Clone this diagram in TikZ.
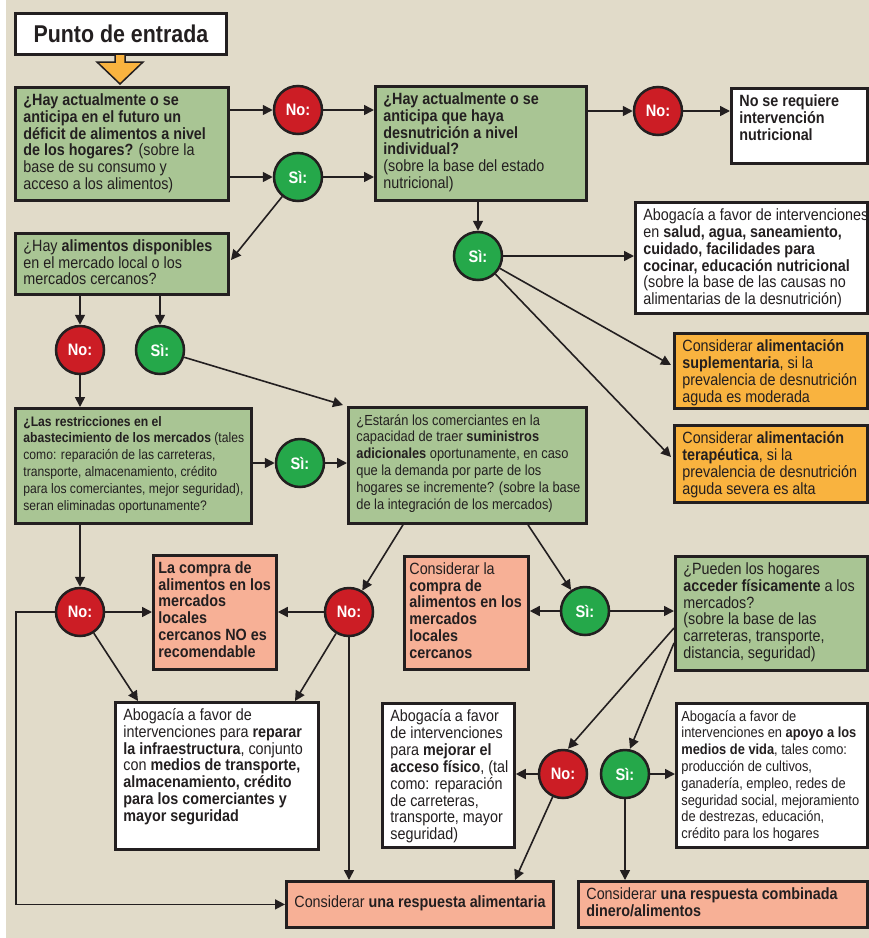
\documentclass[tikz,border=0pt]{standalone}
\usepackage{fontspec}
\setmainfont{Liberation Sans}[FakeStretch=0.88]
\usetikzlibrary{arrows.meta,calc}
\definecolor{bgc}{HTML}{E1DBC9}
\definecolor{gfill}{HTML}{A9C594}
\definecolor{redc}{HTML}{CC1D25}
\definecolor{grnc}{HTML}{25A84A}
\definecolor{orc}{HTML}{F9B33F}
\definecolor{salc}{HTML}{F7B096}
\definecolor{dk}{HTML}{231F20}
\newcommand{\mybx}[4]{\parbox[c][\dimexpr #2pt-12pt\relax][t]{\dimexpr #1pt-16pt\relax}{\fontsize{#3}{16.8}\selectfont\begin{tabular}[t]{@{}l@{}}#4\end{tabular}}}
\newcommand{\mybxc}[4]{\parbox[c][\dimexpr #2pt-12pt\relax][c]{\dimexpr #1pt-16pt\relax}{\fontsize{#3}{16.8}\selectfont\begin{tabular}[c]{@{}l@{}}#4\end{tabular}}}
\tikzset{
  bx/.style={draw=dk, line width=2.8pt, anchor=north west, inner xsep=8pt, inner ysep=6pt, text=dk},
  tightbox/.style={inner xsep=5pt},
  gbox/.style={bx, fill=gfill},
  wbox/.style={bx, fill=white},
  obox/.style={bx, fill=orc},
  sbox/.style={bx, fill=salc},
  cnode/.style={circle, draw=dk, line width=2.5pt, minimum size=48pt, inner sep=0pt, text=white, font=\fontsize{16.6}{18}\selectfont\bfseries},
  nocirc/.style={cnode, fill=redc},
  sicirc/.style={cnode, fill=grnc},
  arr/.style={draw=dk, line width=1.6pt, -{Triangle[length=10pt,width=10pt]}},
}
\begin{document}
\begin{tikzpicture}[x=1pt,y=-1pt]
\useasboundingbox (0,0) rectangle (869,938);
\fill[white] (0,0) rectangle (869,938);
\fill[bgc] (6,0) rectangle (869,938);

% title
\node[wbox, minimum width=211pt, minimum height=41pt, inner sep=0pt, font=\fontsize{24.3}{26}\selectfont\bfseries] (B0) at (14,12) {Punto de entrada};
% orange block arrow
\filldraw[fill=orc, draw=dk, line width=1.5pt] (115,54) -- (125,54) -- (125,62) -- (143,62) -- (120,84) -- (97,62) -- (115,62) -- cycle;

% boxes
\node[gbox] (B1) at (14,86) {\mybx{213}{113}{16.3}{\textbf{¿Hay actualmente o se}\\ \textbf{anticipa en el futuro un}\\ \textbf{déficit de alimentos a nivel}\\ \textbf{de los hogares?} (sobre la\\ base de su consumo y\\ acceso a los alimentos)}};
\node[gbox] (B2) at (374,85) {\mybx{211}{114}{16.3}{\textbf{¿Hay actualmente o se}\\ \textbf{anticipa que haya}\\ \textbf{desnutrición a nivel}\\ \textbf{individual?}\\ (sobre la base del estado\\ nutricional)}};
\node[wbox] (B3) at (730,87) {\mybx{136}{75}{16.3}{\textbf{No se requiere}\\ \textbf{intervención}\\ \textbf{nutricional}}};
\node[wbox] (B4) at (634,201) {\mybx{232}{111}{16.3}{Abogacía a favor de intervenciones\\ en \textbf{salud, agua, saneamiento,}\\ \textbf{cuidado, facilidades para}\\ \textbf{cocinar, educación nutricional}\\ (sobre la base de las causas no\\ alimentarias de la desnutrición)}};
\node[obox] (B5) at (673,332) {\mybx{193}{75}{16.3}{Considerar \textbf{alimentación}\\ \textbf{suplementaria}, si la\\ prevalencia de desnutrición\\ aguda es moderada}};
\node[obox] (B6) at (673,424) {\mybx{193}{77}{16.3}{Considerar \textbf{alimentación}\\ \textbf{terapéutica}, si la\\ prevalencia de desnutrición\\ aguda severa es alta}};
\node[gbox] (B7) at (14,232) {\mybx{213}{61}{16.3}{¿Hay \textbf{alimentos disponibles}\\ en el mercado local o los\\ mercados cercanos?}};
\node[gbox] (B8) at (14,407) {\mybx{236}{115}{13.8}{\textbf{¿Las restricciones en el}\\ \textbf{abastecimiento de los mercados} (tales\\ como: reparación de las carreteras,\\ transporte, almacenamiento, crédito\\ para los comerciantes, mejor seguridad),\\ seran eliminadas oportunamente?}};
\node[gbox] (B9) at (347,406) {\mybx{238}{116}{14.6}{¿Estarán los comerciantes en la\\ capacidad de traer \textbf{suministros}\\ \textbf{adicionales} oportunamente, en caso\\ que la demanda por parte de los\\ hogares se incremente? (sobre la base\\ de la integración de los mercados)}};
\node[sbox, tightbox] (B10) at (152,554) {\mybx{129}{114}{16.3}{\textbf{La compra de}\\ \textbf{alimentos en los}\\ \textbf{mercados}\\ \textbf{locales}\\ \textbf{cercanos NO es}\\ \textbf{recomendable}}};
\node[sbox, tightbox] (B11) at (403,555) {\mybx{130}{113}{16.3}{Considerar la\\ \textbf{compra de}\\ \textbf{alimentos en los}\\ \textbf{mercados}\\ \textbf{locales}\\ \textbf{cercanos}}};
\node[gbox] (B12) at (674,555) {\mybx{192}{114}{16.3}{¿Pueden los hogares\\ \textbf{acceder físicamente} a los\\ mercados?\\ (sobre la base de las\\ carreteras, transporte,\\ distancia, seguridad)}};
\node[wbox] (B13) at (114,701) {\mybx{203}{147}{16.3}{Abogacía a favor de\\ intervenciones para \textbf{reparar}\\ \textbf{la infraestructura}, conjunto\\ con \textbf{medios de transporte,}\\ \textbf{almacenamiento, crédito}\\ \textbf{para los comerciantes y}\\ \textbf{mayor seguridad}}};
\node[wbox] (B14) at (381,702) {\mybx{132}{144}{16.3}{Abogacía a favor\\ de intervenciones\\ para \textbf{mejorar el}\\ \textbf{acceso físico}, (tal\\ como: reparación\\ de carreteras,\\ transporte, mayor\\ seguridad)}};
\node[wbox, tightbox] (B15) at (675,702) {\mybx{197}{144}{14.6}{Abogacía a favor de\\ intervenciones en \textbf{apoyo a los}\\ \textbf{medios de vida}, tales como:\\ producción de cultivos,\\ ganadería, empleo, redes de\\ seguridad social, mejoramiento\\ de destrezas, educación,\\ crédito para los hogares}};
\node[sbox] (B16) at (285,880) {\mybxc{267}{46}{16.3}{Considerar \textbf{una respuesta alimentaria}}};
\node[sbox] (B17) at (577,880) {\mybx{289}{46}{16.3}{Considerar \textbf{una respuesta combinada}\\ \textbf{dinero/alimentos}}};

% circles
\node[nocirc] (N1) at (298,110) {No:};
\node[sicirc] (S1) at (298,177) {Sì:};
\node[nocirc] (N2) at (658,111) {No:};
\node[sicirc] (S2) at (478,256) {Sì:};
\node[nocirc] (N3) at (80,350) {No:};
\node[sicirc] (S3) at (160,350) {Sì:};
\node[sicirc] (S4) at (300,463) {Sì:};
\node[nocirc] (N4) at (80,612) {No:};
\node[nocirc] (N5) at (349,612) {No:};
\node[sicirc] (S5) at (585,611) {Sì:};
\node[nocirc] (N6) at (563,774) {No:};
\node[sicirc] (S6) at (625,774) {Sì:};

% connectors
\draw[arr] (B1.east |- N1) -- (N1);
\draw[arr] (N1) -- (B2.west |- N1);
\draw[arr] (B1.east |- S1) -- (S1);
\draw[arr] (S1) -- (B2.west |- S1);
\draw[arr] (B2.east |- N2) -- (N2);
\draw[arr] (N2) -- (B3.west |- N2);
\draw[arr] (B2.south -| S2) -- (S2);
\draw[arr] (S2) -- (B4.west |- S2);
\draw[arr] (S2) -- (671,365);
\draw[arr] (S2) -- (671,457);
\draw[arr] (S1) -- (231,260);
\draw[arr] (B7.south -| N3) -- (N3);
\draw[arr] (B7.south -| S3) -- (S3);
\draw[arr] (N3) -- (B8.north -| N3);
\draw[arr] (S3) -- ($(B9.north west)+(-4,-1)$);
\draw[arr] (B8.east |- S4) -- (S4);
\draw[arr] (S4) -- (B9.west |- S4);
\draw[arr] (B8.south -| N4) -- (N4);
\draw[arr] ($(B9.south west)+(56,0)$) -- (N5);
\draw[arr] ($(B9.south west)+(181,0)$) -- (S5);
\draw[arr] (N4) -- (B10.west |- N4);
\draw[arr] (N5) -- (B10.east |- N5);
\draw[arr] (N4) -- (138,0 |- B13.north);
\draw[arr] (N5) -- (295,0 |- B13.north);
\draw[arr] (N5) -- (N5 |- B16.north);
\draw[arr] (N4.west) -- (16,0 |- N4) |- (B16.west);
\draw[arr] (S5) -- (B11.east |- S5);
\draw[arr] (S5) -- (B12.west |- S5);
\draw[arr] (B12.west |- 0,628) -- ($(N6.north)+(5,0)$);
\draw[arr] (B12.west |- 0,643) -- ($(S6.north)+(5,0)$);
\draw[arr] (N6) -- (B14.east |- N6);
\draw[arr] (S6) -- (B15.west |- S6);
\draw[arr] (S6) -- (S6 |- B17.north);
\draw[arr] (N6) -- (515,0 |- B16.north);
\end{tikzpicture}
\end{document}
